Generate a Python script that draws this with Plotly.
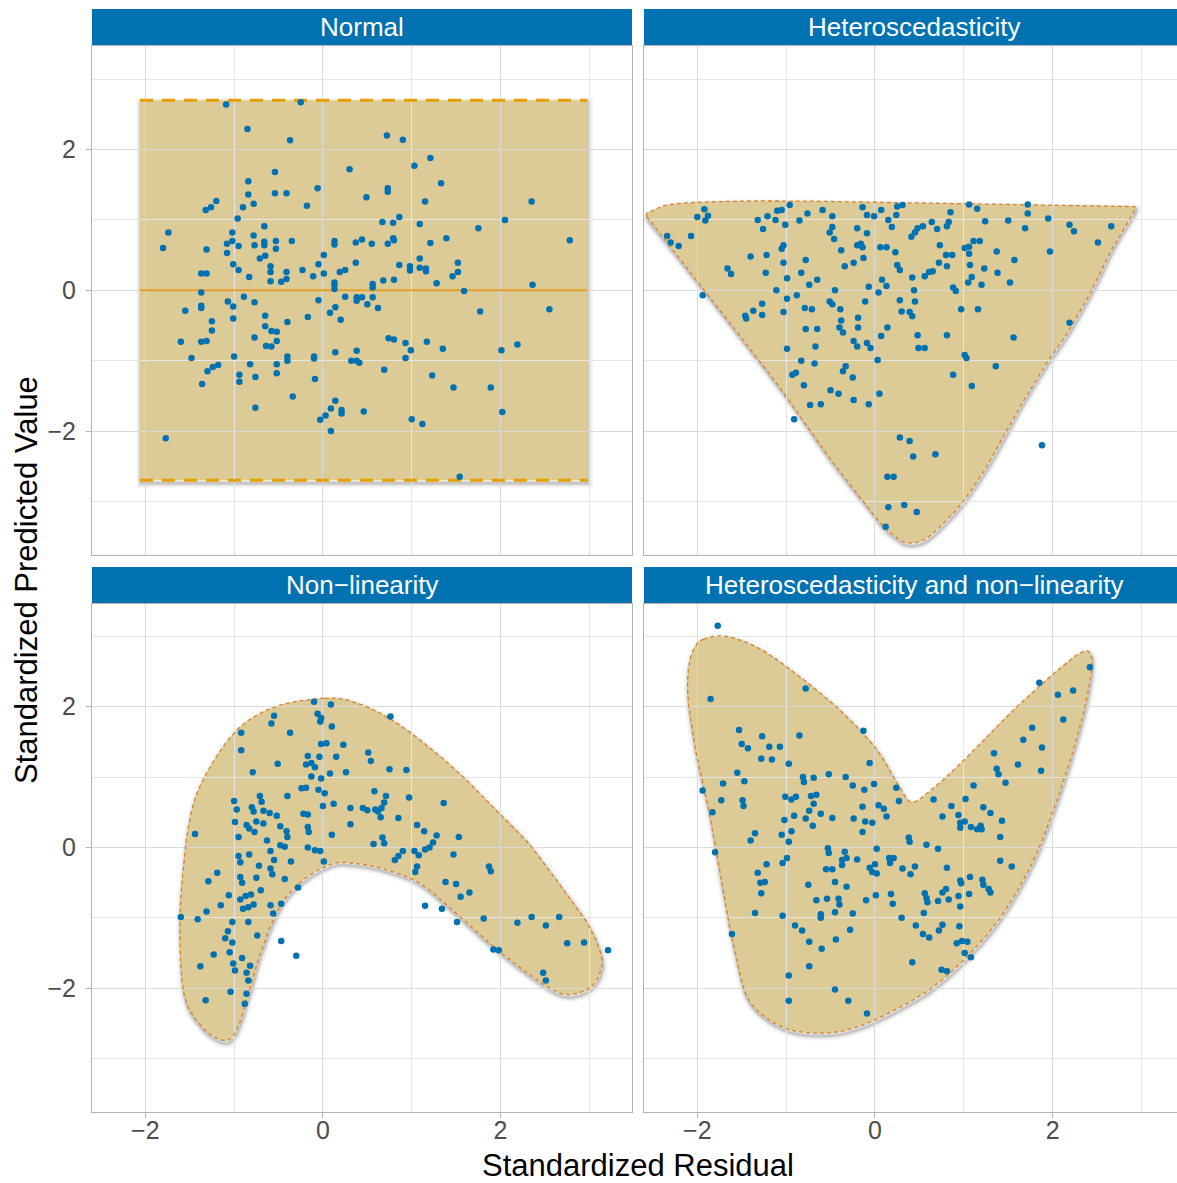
import numpy as np
import plotly.graph_objects as go

# ---------------- data ----------------
panel_titles = ["Normal", "Heteroscedasticity", "Non\u2212linearity", "Heteroscedasticity and non\u2212linearity"]
tick_vals = [-2, 0, 2]
tick_text = ["\u22122", "0", "2"]

normal_pts = [
    (-1.09, 2.64), (-0.25, 2.67), (-0.85, 2.29), (-0.37, 2.13), (-0.54, 1.68), (0.30, 1.72), (-0.84, 1.55),
    (-0.84, 1.36), (-0.54, 1.38), (-0.41, 1.38), (-0.06, 1.45), (-1.20, 1.27), (-1.26, 1.18), (-1.32, 1.14),
    (-0.90, 1.18), (-0.78, 1.23), (-0.18, 1.20), (-0.96, 1.02), (-1.74, 0.82), (-1.80, 0.60), (-1.31, 0.58),
    (-1.02, 0.82), (-1.08, 0.66), (-1.02, 0.70), (-0.95, 0.63), (-1.08, 0.53), (-1.01, 0.37), (-0.95, 0.29),
    (-0.78, 0.78), (-0.77, 0.64), (-0.66, 0.91), (-0.66, 0.69), (-0.66, 0.64), (-0.53, 0.70), (-0.53, 0.59),
    (-0.35, 0.70), (-0.71, 0.45), (-0.65, 0.49), (-0.83, 0.19), (-0.59, 0.34), (-0.59, 0.26), (-0.59, 0.13),
    (-0.47, 0.12), (-0.41, 0.26), (-0.41, 0.16), (-0.23, 0.29), (-0.11, 0.20), (-0.05, 0.37), (0.01, 0.50),
    (0.01, 0.24), (0.13, 0.70), (0.13, 0.65), (0.19, 0.26), (0.25, 0.29), (0.13, 0.11), (0.13, 0.02),
    (0.13, 0.07), (-1.37, 0.24), (-1.31, 0.24), (-1.37, -0.03), (-1.55, -0.29), (-1.37, -0.22), (-1.37, -0.25),
    (-1.25, -0.44), (-1.25, -0.57), (-1.60, -0.73), (-1.37, -0.73), (-1.31, -0.72), (-1.48, -0.96),
    (-1.30, -1.15), (-1.24, -1.09), (-1.18, -1.06), (-1.36, -1.33), (-1.77, -2.10), (-1.07, -0.16),
    (-1.01, -0.23), (-0.89, -0.09), (-0.77, -0.17), (-1.01, -0.40), (-1.00, -0.94), (-0.94, -1.20),
    (-0.94, -1.30), (-0.82, -1.05), (-0.76, -1.23), (-0.76, -1.67), (-0.77, -0.67), (-0.65, -0.36),
    (-0.65, -0.51), (-0.58, -0.58), (-0.52, -0.59), (-0.52, -0.72), (-0.64, -0.79), (-0.58, -0.80),
    (-0.40, -0.45), (-0.40, -0.94), (-0.40, -1.00), (-0.52, -1.05), (-0.52, -1.18), (-0.34, -1.51),
    (-0.17, -0.38), (-0.05, -0.14), (-0.10, -0.94), (-0.10, -0.97), (-0.09, -1.26), (0.08, -0.32),
    (0.14, -0.24), (0.20, -0.42), (0.25, -0.09), (0.14, -0.88), (0.32, -1.00), (0.14, -1.57), (0.09, -1.68),
    (0.03, -1.78), (-0.03, -1.84), (0.21, -1.70), (0.21, -1.75), (0.09, -2.00),
    (0.72, 2.20), (0.90, 2.14), (1.21, 1.88), (1.03, 1.77), (1.33, 1.52), (0.73, 1.45), (0.73, 1.40),
    (0.49, 1.32), (1.15, 1.26), (2.35, 1.26), (2.05, 1.00), (0.67, 0.97), (0.79, 0.96), (0.86, 1.04),
    (1.09, 0.94), (1.75, 0.88), (0.37, 0.68), (0.44, 0.72), (0.55, 0.66), (0.73, 0.66), (0.79, 0.74),
    (0.80, 0.71), (1.21, 0.67), (1.39, 0.74), (2.78, 0.71), (0.37, 0.39), (0.86, 0.36), (0.98, 0.34),
    (0.98, 0.28), (1.09, 0.45), (1.09, 0.32), (1.16, 0.31), (1.16, 0.27), (1.52, 0.39), (1.52, 0.26),
    (1.46, 0.20), (1.28, 0.10), (0.56, 0.09), (0.56, 0.04), (0.68, 0.14), (0.80, 0.15), (1.59, -0.01),
    (2.36, 0.08), (0.38, -0.10), (0.44, -0.10), (0.38, -0.15), (0.56, -0.10), (0.50, -0.20), (0.62, -0.25),
    (1.77, -0.30), (2.55, -0.27), (0.74, -0.68), (0.80, -0.70), (0.93, -0.75), (0.99, -0.85), (1.17, -0.73),
    (1.35, -0.83), (0.38, -0.86), (0.38, -1.00), (0.41, -1.03), (0.93, -0.96), (2.01, -0.85), (2.19, -0.77),
    (0.69, -1.13), (1.23, -1.21), (1.47, -1.38), (1.89, -1.38), (0.46, -1.72), (1.00, -1.83), (1.12, -1.90),
    (2.02, -1.73), (1.54, -2.65),
]

hetero_pts = [
    (-0.96, 1.21), (-1.92, 1.15), (-2.00, 1.04), (-1.91, 0.99), (-1.88, 1.06), (-2.34, 0.77), (-2.30, 0.68),
    (-2.21, 0.63), (-2.07, 0.77), (-1.94, -0.07), (-1.32, 1.00), (-1.21, 1.05), (-1.12, 1.00), (-1.26, 0.87),
    (-1.10, 1.13), (-1.05, 1.14), (-1.01, 0.93), (-0.76, 1.09), (-0.85, 0.99), (-0.59, 1.14), (-0.48, 1.05),
    (-0.48, 0.90), (-0.51, 0.82), (-0.46, 0.73), (-0.14, 1.18), (-0.09, 1.07), (-0.01, 1.05), (0.07, 1.14),
    (0.15, 1.00), (0.24, 1.07), (0.25, 1.19), (0.31, 1.21), (0.19, 0.90), (-0.20, 0.88), (-0.09, 0.81),
    (-1.03, 0.64), (-1.05, 0.59), (-1.40, 0.48), (-1.22, 0.50), (-1.66, 0.31), (-1.62, 0.23), (-1.23, 0.25),
    (-1.03, 0.39), (-0.99, 0.17), (-0.78, 0.43), (-0.83, 0.25), (-0.74, 0.08), (-0.65, 0.15), (-0.38, 0.57),
    (-0.34, 0.34), (-0.24, 0.39), (-0.20, 0.64), (-0.16, 0.66), (-0.14, 0.61), (-0.13, 0.46), (0.06, 0.61),
    (0.13, 0.61), (0.23, 0.54), (0.25, 0.36), (0.28, 0.29), (0.08, 0.15), (0.13, 0.06), (-0.07, 0.05),
    (0.04, -0.03), (-0.11, -0.16), (-0.45, 0.00), (-0.51, -0.16), (-0.48, -0.20), (-0.39, -0.27),
    (-0.38, -0.43), (-0.40, -0.53), (-0.36, -0.60), (-0.19, -0.39), (-0.19, -0.53), (-0.24, -0.72),
    (-0.20, -0.80), (-0.09, -0.75), (-0.05, -0.82), (0.07, -0.65), (0.14, -0.53), (0.28, -0.14), (0.30, -0.30),
    (0.03, -0.99), (0.05, -1.47), (-0.07, -1.62), (-0.24, -1.56), (-0.25, -1.24), (-0.36, -1.15),
    (-0.33, -1.08), (-0.41, -1.47), (-0.50, -1.42), (-0.61, -1.62), (-0.73, -1.63), (-0.80, -1.35),
    (-0.93, -1.20), (-0.89, -1.17), (-0.83, -1.00), (-0.68, -1.04), (-0.67, -0.80), (-0.99, -0.83),
    (-0.78, -0.55), (-0.65, -0.55), (-0.91, -1.83), (-0.88, -0.07), (-0.99, -0.12), (-1.03, -0.31),
    (-1.11, 0.00), (-0.79, -0.25), (-0.71, -0.27), (-1.45, -0.40), (-1.46, -0.36), (-1.37, -0.29),
    (-1.27, -0.19), (-1.27, -0.35), (0.28, -2.09), (0.14, -2.65), (0.21, -2.65), (0.15, -3.08), (0.33, -3.05),
    (0.12, -3.36),
    (1.06, 1.22), (1.15, 1.16), (1.72, 1.22), (1.72, 1.09), (0.85, 1.11), (0.83, 0.97), (0.64, 0.97),
    (0.70, 0.87), (1.24, 0.98), (1.50, 0.99), (1.69, 0.88), (1.95, 1.02), (2.19, 0.93), (2.24, 0.84),
    (2.66, 0.91), (2.51, 0.68), (1.97, 0.55), (0.41, 0.76), (0.45, 0.82), (0.48, 0.88), (0.54, 0.91),
    (0.81, 0.91), (0.73, 0.64), (0.80, 0.50), (0.87, 0.50), (0.72, 0.39), (0.81, 0.34), (1.01, 0.60),
    (1.06, 0.62), (1.06, 0.52), (1.11, 0.70), (1.18, 0.70), (1.37, 0.55), (1.57, 0.43), (1.07, 0.36),
    (1.23, 0.31), (1.38, 0.25), (1.09, 0.19), (1.05, 0.11), (1.20, 0.08), (1.52, 0.11), (0.56, 0.20),
    (0.61, 0.26), (0.65, 0.27), (0.42, 0.18), (0.44, 0.00), (0.88, 0.04), (0.91, -0.01), (0.45, -0.16),
    (0.39, -0.31), (0.42, -0.37), (0.97, -0.27), (1.16, -0.27), (2.19, -0.46), (0.48, -0.64), (0.81, -0.64),
    (1.56, -0.67), (0.49, -0.82), (0.56, -0.82), (1.01, -0.92), (1.03, -0.96), (1.36, -1.08), (0.88, -1.20),
    (1.09, -1.36), (0.39, -2.14), (0.43, -2.36), (0.68, -2.33), (1.88, -2.20), (0.47, -3.15),
]

nonlin_pts = [
    (-0.10, 2.07), (0.09, 2.03), (-0.55, 1.87), (-0.58, 1.76), (-0.06, 1.90), (-0.02, 1.84), (-0.03, 1.79),
    (0.10, 1.72), (-0.92, 1.63), (-0.37, 1.63), (-0.92, 1.38), (-0.51, 1.19), (-0.79, 1.07), (-0.02, 1.47),
    (0.04, 1.48), (0.23, 1.46), (-0.17, 1.30), (-0.04, 1.29), (-0.19, 1.18), (-0.13, 1.20), (-0.09, 1.14),
    (0.15, 1.29), (0.08, 1.05), (0.26, 1.07), (-0.13, 1.01), (-0.02, 0.98), (-0.24, 0.84), (-0.19, 0.85),
    (-0.05, 0.82), (0.02, 0.77), (-0.40, 0.73), (0.00, 0.59), (0.12, 0.62), (0.31, 0.56), (0.31, 0.33),
    (0.10, 0.18), (-1.00, 0.66), (-0.97, 0.54), (-0.99, 0.36), (-0.80, 0.57), (-0.78, 0.51), (-0.71, 0.73),
    (-0.69, 0.65), (-0.67, 0.52), (-0.60, 0.49), (-0.52, 0.45), (-0.75, 0.37), (-0.67, 0.34), (-0.86, 0.32),
    (-0.83, 0.27), (-0.77, 0.22), (-0.95, 0.15), (-0.48, 0.30), (-0.41, 0.23), (-0.40, 0.15), (-0.63, 0.10),
    (-0.48, 0.03), (-0.43, 0.01), (-0.22, 0.48), (-0.17, 0.47), (-0.17, 0.29), (-0.16, 0.22), (-0.17, 0.00),
    (-0.09, -0.04), (-0.03, -0.05), (0.01, -0.20), (-1.44, 0.19), (-0.95, -0.12), (-0.93, -0.21),
    (-0.83, -0.10), (-0.72, -0.26), (-0.59, -0.05), (-0.55, -0.18), (-0.59, -0.30), (-0.57, -0.38),
    (-0.36, -0.20), (-0.43, -0.45), (-0.75, -0.43), (-0.93, -0.42), (-0.91, -0.50), (-1.19, -0.36),
    (-1.29, -0.48), (-0.28, -0.57), (-0.70, -0.61), (-1.06, -0.68), (-1.15, -0.82), (-0.93, -0.74),
    (-0.87, -0.69), (-0.81, -0.67), (-0.90, -0.87), (-0.84, -0.85), (-0.78, -0.81), (-0.59, -0.82),
    (-0.56, -0.94), (-0.47, -0.80), (-1.31, -0.91), (-1.60, -0.99), (-1.41, -1.02), (-1.02, -1.06),
    (-0.84, -1.06), (-1.07, -1.19), (-1.10, -1.29), (-1.02, -1.35), (-0.74, -1.25), (-0.47, -1.33),
    (-0.30, -1.54), (-1.23, -1.52), (-1.05, -1.49), (-0.91, -1.57), (-1.38, -1.69), (-1.01, -1.65),
    (-0.99, -1.75), (-0.82, -1.68), (-0.86, -1.78), (-0.84, -1.89), (-1.04, -2.05), (-0.86, -2.08),
    (-1.32, -2.17), (-0.88, -2.22),
    (0.76, 1.86), (0.51, 1.35), (0.54, 1.23), (0.75, 1.11), (0.94, 1.10), (0.58, 0.80), (0.71, 0.73),
    (0.69, 0.64), (0.66, 0.56), (0.62, 0.51), (0.59, 0.54), (0.45, 0.56), (0.50, 0.53), (0.65, 0.43),
    (0.85, 0.42), (0.97, 0.71), (1.36, 0.63), (0.57, 0.05), (0.67, 0.14), (0.69, 0.06), (1.06, 0.32),
    (1.14, 0.23), (1.28, 0.17), (1.24, 0.07), (1.20, 0.00), (1.15, -0.03), (1.03, -0.05), (1.08, -0.11),
    (1.06, -0.27), (1.04, -0.35), (0.90, -0.05), (0.85, -0.12), (0.81, -0.18), (1.53, 0.15), (1.47, -0.10),
    (1.87, -0.27), (1.89, -0.34), (1.38, -0.49), (1.50, -0.52), (1.55, -0.70), (1.65, -0.64), (1.15, -0.83),
    (1.34, -0.87), (1.51, -1.06), (1.81, -1.01), (2.19, -1.07), (2.35, -0.99), (2.51, -1.11), (2.66, -0.99),
    (1.92, -1.45), (1.98, -1.46), (2.75, -1.36), (2.94, -1.35), (3.21, -1.46), (2.48, -1.78), (2.51, -1.89),
]

hetnl_pts = [
    (-1.77, 3.15), (-1.85, 2.11), (-0.78, 2.26), (-0.13, 1.66), (-1.53, 1.67), (-1.50, 1.47), (-1.43, 1.41),
    (-1.27, 1.58), (-1.19, 1.43), (-1.07, 1.43), (-1.28, 1.26), (-1.16, 1.25), (-0.85, 1.59), (-0.97, 1.19),
    (-1.55, 1.06), (-1.71, 0.91), (-1.47, 0.94), (-1.94, 0.81), (-1.73, 0.67), (-1.49, 0.67), (-1.48, 0.59),
    (-1.83, 0.50), (-0.81, 1.00), (-0.80, 0.93), (-0.69, 0.99), (-0.52, 1.04), (-0.33, 1.00), (-0.25, 0.88),
    (-0.12, 0.82), (-0.01, 0.90), (-0.06, 1.20), (0.24, 0.85), (0.27, 0.66), (-1.01, 0.72), (-0.94, 0.68),
    (-0.89, 0.72), (-0.72, 0.73), (-0.66, 0.75), (-0.69, 0.62), (-0.74, 0.52), (-0.78, 0.41), (-0.70, 0.31),
    (-0.61, 0.48), (-0.48, 0.42), (-0.91, 0.45), (-1.02, 0.39), (-0.94, 0.23), (-1.05, 0.18), (-0.97, 0.08),
    (-1.35, 0.20), (-1.40, 0.10), (-1.80, -0.07), (-0.24, 0.41), (-0.14, 0.58), (-0.11, 0.37), (-0.03, 0.35),
    (-0.14, 0.22), (0.04, 0.60), (0.10, 0.55), (0.13, 0.44), (0.02, -0.02), (-0.53, -0.01), (-0.52, -0.08),
    (-0.34, -0.06), (-0.37, -0.18), (-0.37, -0.25), (-0.32, -0.15), (-0.20, -0.17), (-0.55, -0.31),
    (-0.48, -0.31), (-0.45, -0.49), (-0.32, -0.56), (-0.75, -0.53), (-0.99, -0.15), (-1.04, -0.22),
    (-1.22, -0.24), (-1.32, -0.36), (-1.29, -0.50), (-1.24, -0.49), (-1.28, -0.65), (-0.66, -0.75),
    (-0.54, -0.73), (-0.41, -0.73), (-0.40, -0.81), (-0.45, -0.92), (-0.25, -0.94), (-0.61, -0.95),
    (-0.61, -1.00), (-0.10, -0.75), (0.01, -0.68), (-0.06, -0.29), (-0.03, -0.35), (0.02, -0.37),
    (0.00, -0.24), (0.16, -0.15), (0.21, -0.15), (0.17, -0.22), (0.31, -0.30), (0.18, -0.66), (0.20, -0.80),
    (0.30, -1.00), (-1.35, -0.93), (-1.04, -0.97), (-0.90, -1.11), (-0.82, -1.18), (-1.61, -1.23),
    (-0.74, -1.34), (-0.60, -1.44), (-0.44, -1.31), (-0.28, -1.17), (-0.74, -1.69), (-0.97, -1.82),
    (-0.97, -2.18), (-0.45, -2.02), (-0.30, -2.18), (-0.09, -2.36),
    (2.42, 2.56), (1.85, 2.34), (2.06, 2.17), (2.23, 2.23), (2.12, 1.82), (1.77, 1.70), (1.67, 1.53),
    (1.88, 1.42), (1.34, 1.34), (1.61, 1.18), (1.37, 1.12), (1.39, 1.04), (1.87, 1.09), (1.47, 0.92),
    (1.11, 0.88), (0.66, 0.68), (1.02, 0.69), (0.86, 0.59), (1.22, 0.57), (1.30, 0.49), (0.76, 0.44),
    (0.94, 0.46), (0.96, 0.35), (0.96, 0.28), (1.01, 0.37), (1.08, 0.29), (1.15, 0.26), (1.19, 0.31),
    (1.20, 0.26), (1.43, 0.38), (1.41, 0.15), (0.38, 0.14), (0.39, 0.08), (0.58, 0.04), (0.71, -0.02),
    (1.41, -0.19), (1.54, -0.27), (0.45, -0.27), (0.40, -0.38), (0.81, -0.29), (1.07, -0.42), (0.96, -0.47),
    (0.97, -0.51), (1.21, -0.46), (1.22, -0.53), (1.28, -0.59), (1.30, -0.64), (0.56, -0.65), (0.58, -0.72),
    (0.59, -0.78), (0.71, -0.76), (0.76, -0.64), (0.80, -0.59), (0.83, -0.74), (0.94, -0.69), (1.06, -0.66),
    (0.96, -0.84), (0.55, -0.93), (0.46, -1.11), (0.76, -1.10), (0.95, -1.12), (0.72, -1.18), (0.54, -1.23),
    (0.61, -1.28), (0.92, -1.36), (0.98, -1.33), (1.04, -1.34), (1.01, -1.50), (1.08, -1.56), (0.42, -1.63),
    (0.75, -1.74), (0.81, -1.76),
]

# envelope of the "Normal" panel: band limits and centre line
normal_band_x = [-2.06, 2.98]
normal_band_y = [-2.70, 2.70]
normal_centre_y = 0.0

# hull outlines (vertices, clockwise)
hetero_hull_x = [-2.57, -2.50, -2.30, -1.80, -1.00, 0.00, 1.00, 2.00, 2.70, 2.88, 2.92, 2.69, 2.47, 2.17,
                 1.94, 1.64, 1.31, 1.01, 0.78, 0.56, 0.37, 0.24, 0.09, -0.06, -0.50, -1.00, -1.55, -2.12, -2.40]
hetero_hull_y = [1.05, 1.13, 1.22, 1.26, 1.27, 1.25, 1.23, 1.21, 1.20, 1.19, 1.13, 0.64, 0.07, -0.60,
                 -1.02, -1.64, -2.40, -2.97, -3.30, -3.54, -3.59, -3.51, -3.35, -3.11, -2.40, -1.50, -0.60, 0.32, 0.77]

nonlin_hull_x = [0.02, 0.32, 0.70, 1.08, 1.53, 1.90, 2.28, 2.65, 2.95, 3.10, 3.14, 3.03, 2.80, 2.58, 2.20,
                 1.83, 1.45, 1.08, 0.70, 0.32, 0.09, -0.21, -0.47, -0.69, -0.84, -0.99, -1.14, -1.37, -1.56,
                 -1.61, -1.59, -1.50, -1.33, -0.96, -0.51]
nonlin_hull_y = [2.12, 2.08, 1.87, 1.54, 1.06, 0.59, 0.11, -0.50, -1.02, -1.40, -1.69, -1.97, -2.09, -2.02,
                 -1.69, -1.31, -0.88, -0.50, -0.31, -0.22, -0.24, -0.45, -0.81, -1.45, -2.11, -2.64, -2.74,
                 -2.54, -2.11, -1.26, -0.55, 0.40, 1.01, 1.68, 2.01]

hetnl_hull_x = [-1.93, -1.67, -1.29, -0.81, -0.36, 0.02, 0.24, 0.40, 0.60, 0.97, 1.49, 2.02, 2.32, 2.43,
                2.43, 2.32, 2.09, 1.79, 1.42, 1.04, 0.67, 0.30, -0.17, -0.58, -1.03, -1.40, -1.55, -1.70,
                -1.85, -2.00, -2.10, -2.10, -2.04]
hetnl_hull_y = [2.96, 3.00, 2.82, 2.39, 1.91, 1.39, 0.92, 0.65, 0.78, 1.20, 1.87, 2.48, 2.77, 2.74, 2.44,
                1.77, 0.82, -0.17, -0.98, -1.55, -1.97, -2.26, -2.54, -2.64, -2.56, -2.21, -1.64, -0.69,
                0.40, 1.25, 2.06, 2.53, 2.82]

# ---------------- styling ----------------
W, H = 1177, 1183
BLUE = "#0072B2"
ORANGE = "#E69F00"
HULL_LINE = "#D9822B"
FILL = "rgb(220,203,150)"
GRID_MAJOR = "#DADADA"
GRID_MINOR = "#E6E6E6"
BORDER = "#B3B3B3"
FONT = "Liberation Sans, Arial, Helvetica, sans-serif"
TICK_SIZE = 25
STRIP_SIZE = 26
TITLE_SIZE = 31


def px_x(p):
    return p / W


def px_y(p):
    return 1 - p / H


# panel pixel boxes (left, right, top, bottom)
boxes = [(92, 632, 46, 555), (644, 1184, 46, 555), (92, 632, 604, 1112), (644, 1184, 604, 1112)]
x_ranges = [[-2.6, 3.48], [-2.6, 3.40], [-2.6, 3.48], [-2.6, 3.40]]
y_ranges = [[-3.76, 3.47], [-3.76, 3.47], [-3.76, 3.46], [-3.76, 3.46]]


def catmull_closed(xs, ys, n=14):
    P = np.column_stack([xs, ys]).astype(float)
    N = len(P)
    out = []
    for i in range(N):
        p0, p1, p2, p3 = P[(i - 1) % N], P[i], P[(i + 1) % N], P[(i + 2) % N]
        for t in np.linspace(0, 1, n, endpoint=False):
            t2, t3 = t * t, t * t * t
            pt = 0.5 * ((2 * p1) + (-p0 + p2) * t + (2 * p0 - 5 * p1 + 4 * p2 - p3) * t2
                        + (-p0 + 3 * p1 - 3 * p2 + p3) * t3)
            out.append(pt)
    out.append(out[0])
    return np.array(out)


def path_of(pts, dx=0.0, dy=0.0):
    return "M " + " L ".join(f"{x + dx:.4f},{y + dy:.4f}" for x, y in pts) + " Z"


fig = go.Figure()
shapes = []
axis_ids = [("x", "y"), ("x2", "y2"), ("x3", "y3"), ("x4", "y4")]


def add_envelope(pts, xa, ya):
    # soft shadow + fill, drawn beneath the grid
    for w, a in [(9, 0.05), (5, 0.10), (2.5, 0.14)]:
        shapes.append(dict(type="path", path=path_of(pts, 0.01, -0.04), xref=xa, yref=ya,
                           line=dict(color=f"rgba(40,40,40,{a})", width=w), layer="below"))
    shapes.append(dict(type="path", path=path_of(pts), xref=xa, yref=ya,
                       fillcolor=FILL, line=dict(width=0), layer="below"))


# Normal panel envelope (rectangle)
x0, x1 = normal_band_x
y0, y1 = normal_band_y
rect = np.array([[x0, y0], [x0, y1], [x1, y1], [x1, y0]])
add_envelope(rect, "x", "y")
for yy in normal_band_y:
    fig.add_trace(go.Scatter(x=normal_band_x, y=[yy, yy], mode="lines", xaxis="x", yaxis="y",
                             line=dict(color=ORANGE, width=3, dash="13px,9px"), hoverinfo="skip",
                             showlegend=False))
fig.add_trace(go.Scatter(x=normal_band_x, y=[normal_centre_y, normal_centre_y], mode="lines",
                         xaxis="x", yaxis="y", line=dict(color="rgba(230,150,20,0.85)", width=2),
                         hoverinfo="skip", showlegend=False))

hulls = [(hetero_hull_x, hetero_hull_y), (nonlin_hull_x, nonlin_hull_y), (hetnl_hull_x, hetnl_hull_y)]
for k, (hx, hy) in enumerate(hulls, start=1):
    xa, ya = axis_ids[k]
    sm = catmull_closed(hx, hy)
    add_envelope(sm, xa, ya)
    fig.add_trace(go.Scatter(x=sm[:, 0], y=sm[:, 1], mode="lines", xaxis=xa, yaxis=ya,
                             line=dict(color=HULL_LINE, width=1.3, dash="4px,3px"), hoverinfo="skip",
                             showlegend=False))

for k, pts in enumerate([normal_pts, hetero_pts, nonlin_pts, hetnl_pts]):
    xa, ya = axis_ids[k]
    fig.add_trace(go.Scatter(x=[p[0] for p in pts], y=[p[1] for p in pts], mode="markers",
                             xaxis=xa, yaxis=ya, marker=dict(color=BLUE, size=6.5, line=dict(width=0)),
                             showlegend=False))

layout = dict(width=W, height=H, margin=dict(l=0, r=0, t=0, b=0), autosize=False,
              paper_bgcolor="white", plot_bgcolor="white", font=dict(family=FONT))

for k, (l, r, t, b) in enumerate(boxes):
    xa = "xaxis" if k == 0 else f"xaxis{k + 1}"
    ya = "yaxis" if k == 0 else f"yaxis{k + 1}"
    bottom_row = k >= 2
    left_col = k % 2 == 0
    layout[xa] = dict(domain=[px_x(l), min(1.0, px_x(r))], range=x_ranges[k], anchor=axis_ids[k][1],
                      tickvals=tick_vals, ticktext=tick_text, showticklabels=bottom_row,
                      ticks="outside" if bottom_row else "", ticklen=5, tickcolor=BORDER, tickwidth=1,
                      ticklabelstandoff=-9,
                      tickfont=dict(size=TICK_SIZE, color="#4D4D4D", family=FONT),
                      showgrid=True, gridcolor=GRID_MAJOR, gridwidth=1.2, zeroline=False,
                      minor=dict(tickvals=[-1, 1, 3], showgrid=True, gridcolor=GRID_MINOR, gridwidth=0.8),
                      showline=True, mirror=True, linecolor=BORDER, linewidth=1, fixedrange=True)
    layout[ya] = dict(domain=[px_y(b), px_y(t)], range=y_ranges[k], anchor=axis_ids[k][0],
                      tickvals=tick_vals, ticktext=tick_text, showticklabels=left_col,
                      ticks="outside" if left_col else "", ticklen=5, tickcolor=BORDER, tickwidth=1,
                      ticklabelstandoff=5,
                      tickfont=dict(size=TICK_SIZE, color="#4D4D4D", family=FONT),
                      showgrid=True, gridcolor=GRID_MAJOR, gridwidth=1.2, zeroline=False,
                      minor=dict(tickvals=[-3, -1, 1, 3], showgrid=True, gridcolor=GRID_MINOR, gridwidth=0.8),
                      showline=True, mirror=True, linecolor=BORDER, linewidth=1, fixedrange=True)

# strips
annotations = []
strip_boxes = [(92, 632, 9, 45), (644, 1184, 9, 45), (92, 632, 567, 603), (644, 1184, 567, 603)]
for k, (l, r, t, b) in enumerate(strip_boxes):
    shapes.append(dict(type="rect", xref="paper", yref="paper", x0=px_x(l), x1=min(1.0, px_x(r)),
                       y0=px_y(b), y1=px_y(t), fillcolor=BLUE, line=dict(width=0), layer="above"))
    annotations.append(dict(text=panel_titles[k], xref="paper", yref="paper", x=px_x((l + r) / 2),
                            y=px_y((t + b) / 2), showarrow=False, xanchor="center", yanchor="middle",
                            font=dict(size=STRIP_SIZE, color="white", family=FONT)))

annotations.append(dict(text="Standardized Residual", xref="paper", yref="paper", x=px_x(638),
                        y=px_y(1165), showarrow=False, xanchor="center", yanchor="middle",
                        font=dict(size=TITLE_SIZE, color="black", family=FONT)))
annotations.append(dict(text="Standardized Predicted Value", xref="paper", yref="paper", x=px_x(26),
                        y=px_y(580), showarrow=False, xanchor="center", yanchor="middle", textangle=-90,
                        font=dict(size=TITLE_SIZE, color="black", family=FONT)))

layout["shapes"] = shapes
layout["annotations"] = annotations
fig.update_layout(**layout)

fig.write_html("out.html", config={"displayModeBar": False},
               post_script="document.body.style.margin='0px';")
